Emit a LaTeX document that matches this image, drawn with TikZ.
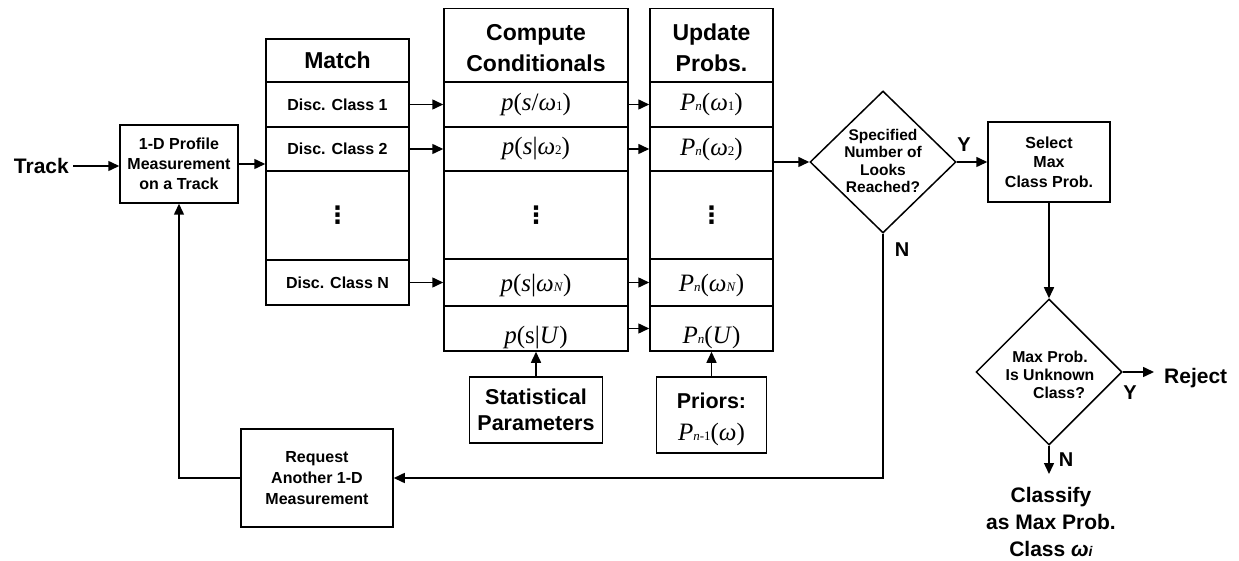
\documentclass[tikz,border=0pt]{standalone}
\usepackage{fontspec}
\setmainfont{Liberation Sans}
\newfontfamily\tnr{Liberation Serif}
\newfontfamily\dvs{DejaVu Sans}
\usetikzlibrary{arrows.meta,shapes.geometric}
\newcommand\fsz[2]{\fontsize{#1}{#2}\selectfont}
\newcommand\mth[1]{{\tnr\fsz{25}{30}#1}}
\newcommand\sbs[1]{{\fsz{13}{13}#1}}
\newcommand\vdts{{\dvs\bfseries\fsz{24}{24}⋮}}
\tikzset{
  ln/.style={line width=1.5pt},
  arr/.style={line width=1.5pt,-{Triangle[length=11pt,width=10pt]}},
  cell/.style={draw,line width=1.5pt,inner sep=0pt,align=center},
  hdr/.style={font=\bfseries\fsz{23}{31},align=center,inner sep=0pt},
  disc/.style={font=\bfseries\fsz{16}{19}},
  boxtxt/.style={draw,line width=1.5pt,inner sep=0pt,align=center,font=\bfseries\fsz{16}{20}},
  bigtxt/.style={align=center,font=\bfseries\fsz{21.5}{26}},
  lbl/.style={font=\bfseries\fsz{20}{20},inner sep=0pt},
  urow/.style={text height=36pt,text depth=7pt},
  nrow/.style={text height=22pt,text depth=5pt},
  dia/.style={draw,diamond,line width=1.5pt,inner sep=0pt},
}
\begin{document}
\begin{tikzpicture}[x=1pt,y=-1pt]
\useasboundingbox (0,0) rectangle (1239,561);
% Track and profile
\node[font=\bfseries\fsz{21}{21},inner sep=0pt,anchor=east] (track) at (69,166) {Track};
\node[boxtxt,minimum width=118pt,minimum height=78pt] (prof) at (179,164) {1-D Profile\\Measurement\\on a Track};
% Match column
\begin{scope}[every node/.append style={cell,minimum width=143pt}]
\node[hdr,minimum height=43pt] (mH) at (337.5,60.5) {Match};
\node[disc,minimum height=45pt] (m1) at (337.5,104.5) {Disc. Class 1};
\node[disc,minimum height=44pt] (m2) at (337.5,149) {Disc. Class 2};
\node[minimum height=89pt] (mD) at (337.5,215.5) {\vdts};
\node[disc,minimum height=45pt] (mN) at (337.5,282.5) {Disc. Class N};
\end{scope}
% Compute column
\begin{scope}[every node/.append style={cell,minimum width=184pt}]
\node[minimum height=73.5pt] (cH) at (536,45.25) {};
\node[minimum height=45pt] (c1) at (536,104.5) {\mth{\textit{p}(\textit{s}/\textit{ω}\sbs{1})}};
\node[minimum height=44pt] (c2) at (536,149) {\mth{\textit{p}(\textit{s}|\textit{ω}\sbs{2})}};
\node[minimum height=88pt] (cD) at (536,215) {\vdts};
\node[nrow,minimum height=47pt] (cN) at (536,282.5) {\mth{\textit{p}(\textit{s}|\textit{ω}\sbs{\textit{N}})}};
\node[urow,minimum height=45pt] (cU) at (536,328.5) {\mth{\textit{p}(s|\textit{U})}};
\end{scope}
\node[hdr] (cHt) at (536,48) {Compute\\Conditionals};
% Update column
\begin{scope}[every node/.append style={cell,minimum width=123pt}]
\node[minimum height=73.5pt] (uH) at (711.5,45.25) {};
\node[minimum height=45pt] (u1) at (711.5,104.5) {\mth{\textit{P}\sbs{\textit{n}}(\textit{ω}\sbs{1})}};
\node[minimum height=44pt] (u2) at (711.5,149) {\mth{\textit{P}\sbs{\textit{n}}(\textit{ω}\sbs{2})}};
\node[minimum height=88pt] (uD) at (711.5,215) {\vdts};
\node[nrow,minimum height=47pt] (uN) at (711.5,282.5) {\mth{\textit{P}\sbs{\textit{n}}(\textit{ω}\sbs{\textit{N}})}};
\node[urow,minimum height=45pt] (uU) at (711.5,328.5) {\mth{\textit{P}\sbs{\textit{n}}(\textit{U})}};
\end{scope}
\node[hdr] (uHt) at (711.5,47.5) {Update\\Probs.};
% Bottom boxes
\node[draw,ln,bigtxt,inner sep=0pt,minimum width=133pt,minimum height=66pt] (stat) at (536,410) {Statistical\\Parameters};
\node[draw,ln,inner sep=0pt,align=center,minimum width=110pt,minimum height=76pt] (pri) at (711.5,415)
  {{\bfseries\fsz{21.5}{26}\rule{0pt}{24.7pt}Priors:}\\[14pt]\mth{\textit{P}\sbs{\textit{n}-1}(\textit{ω})}};
\node[boxtxt,minimum width=152pt,minimum height=98pt,font=\bfseries\fsz{16}{21}] (req) at (317,478) {Request\\Another 1-D\\Measurement};
% Decision 1
\node[dia,minimum width=146pt,minimum height=142pt] (d1) at (883,162) {};
\node[align=center,font=\bfseries\fsz{15.5}{17.3},inner sep=0pt] (d1t) at (883,161) {Specified\\Number of\\Looks\\Reached?};
\node[boxtxt,minimum width=122pt,minimum height=80pt,font=\bfseries\fsz{16}{19.5}] (sel) at (1049,162) {Select\\Max\\Class Prob.};
% Decision 2
\node[dia,minimum width=146pt,minimum height=146pt] (d2) at (1049,372) {};
\node[align=center,font=\bfseries\fsz{15.8}{18},inner sep=0pt] (d2t) at (1050,375) {Max Prob.\\Is Unknown\\\hspace*{18pt}Class?};
\node[font=\bfseries\fsz{21}{21},inner sep=0pt,anchor=base west] (rej) at (1164,383) {Reject};
\coordinate (rjc) at (1154,372);
\coordinate (clc) at (1049,474);
\node[bigtxt,font=\bfseries\fsz{21}{27},inner sep=0pt] (cls) at (1051,522) {Classify\\as Max Prob.\\Class \textit{ω}{\fsz{14}{14}\textit{i}}};
% Labels
\node[lbl] (y1) at (964,145) {Y};
\node[lbl] (n1) at (902,250) {N};
\node[lbl] (y2) at (1130,393) {Y};
\node[lbl] (n2) at (1066,460) {N};
% Connectors
\draw[arr,shorten <=4pt] (track.east) -- (track.east -| prof.west);
\draw[arr] (prof.east) -- (prof.east -| m2.west);
\draw[arr] (m1.east) -- (c1.west);
\draw[arr] (m2.east) -- (c2.west);
\draw[arr] (mN.east) -- (mN.east -| cN.west);
\draw[arr] (c1.east) -- (u1.west);
\draw[arr] (c2.east) -- (u2.west);
\draw[arr] (cN.east) -- (uN.west);
\draw[arr] (cU.east) -- (uU.west);
\draw[arr] (stat.north) -- (cU.south);
\draw[arr] (pri.north) -- (uU.south);
\draw[arr] (d1.west -| u2.east) -- (d1.west);
\draw[arr] (d1.east) -- (sel.west);
\draw[arr] (sel.south) -- (d2.north);
\draw[arr] (d2.east) -- (rjc);
\draw[arr] (d2.south) -- (clc);
\draw[arr] (d1.south) |- (req.east);
\draw[arr] (req.west) -| (prof.south);
\end{tikzpicture}
\end{document}
